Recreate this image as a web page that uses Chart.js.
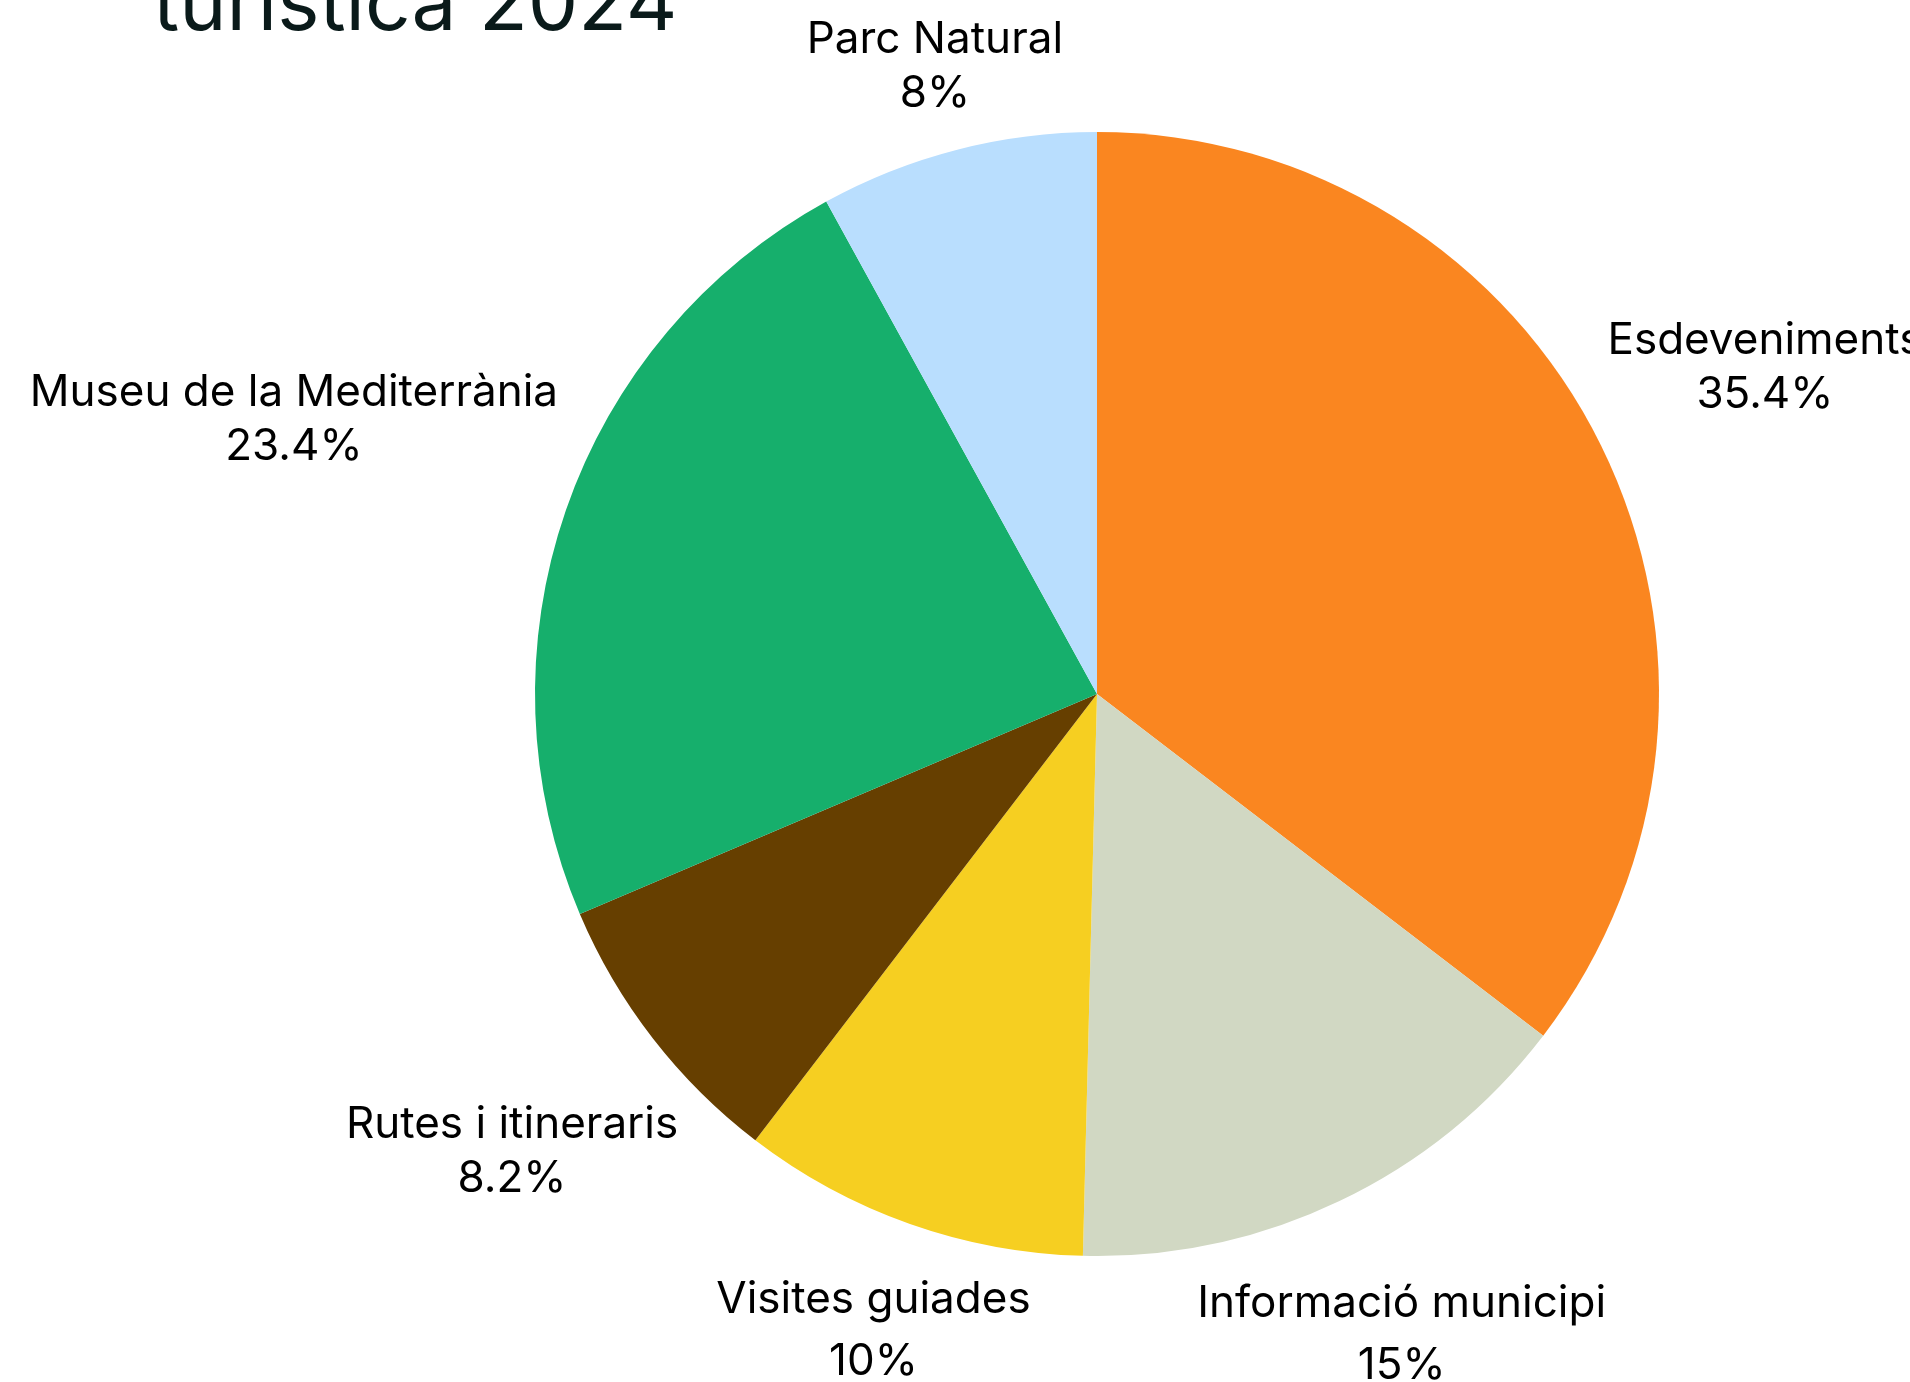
<!DOCTYPE html>
<html>
<head>
    <title>Demanda turística 2024</title>
    <script src="https://cdn.jsdelivr.net/npm/chart.js"></script>
    <style>
        html, body { margin: 0; padding: 0; background: #fff; overflow: hidden; }
        #wrap { width: 1910px; height: 1382px; position: relative; }
    </style>
</head>
<body>
    <div id="wrap"><canvas id="pieChart"></canvas></div>

    <script>
        const titleText = 'turística 2024';
        const categories = ['Esdeveniments', 'Informació municipi', 'Visites guiades', 'Rutes i itineraris', 'Museu de la Mediterrània', 'Parc Natural'];
        const shares = [35.4, 15, 10, 8.2, 23.4, 8];
        const sliceColors = ['#fa8620', '#d1d8c3', '#f6cf21', '#663f00', '#16af6c', '#b9defe'];

        function pctText(v, total) {
            let s = (v / total * 100).toFixed(1);
            if (s.endsWith('.0')) s = s.slice(0, -2);
            return s + '%';
        }

        // labels outside each slice, along the middle angle
        const outsideLabels = {
            id: 'outsideLabels',
            afterDatasetsDraw(chart) {
                const ctx = chart.ctx;
                const meta = chart.getDatasetMeta(0);
                const total = shares.reduce((a, b) => a + b, 0);
                const fontSize = 44;
                const lineH = 54;
                ctx.save();
                ctx.font = fontSize + 'px Inter';
                ctx.fillStyle = '#000';
                ctx.textAlign = 'center';
                ctx.textBaseline = 'middle';
                meta.data.forEach((arc, i) => {
                    const mid = (arc.startAngle + arc.endAngle) / 2;
                    const dx = Math.cos(mid), dy = Math.sin(mid);
                    const lines = [categories[i], pctText(shares[i], total)];
                    const w = Math.max(...lines.map(t => ctx.measureText(t).width));
                    const d = arc.outerRadius + 28 + Math.abs(dx) * w / 2 + Math.abs(dy) * 31;
                    const cx = arc.x + dx * d;
                    const cy = arc.y + dy * d + 4;
                    // lower labels sit a bit more spread out
                    const gap = dy > 0.8 ? lineH + 8 : lineH;
                    ctx.fillText(lines[0], cx, cy - gap / 2);
                    ctx.fillText(lines[1], cx, cy + gap / 2);
                });
                ctx.restore();

                // title, partly above the top edge
                ctx.save();
                ctx.font = '80px Inter';
                ctx.fillStyle = '#0a1a1a';
                ctx.textAlign = 'left';
                ctx.textBaseline = 'alphabetic';
                ctx.fillText(titleText, 153, 30);
                ctx.restore();
            }
        };

        new Chart(document.getElementById('pieChart'), {
            type: 'pie',
            data: {
                labels: categories,
                datasets: [{
                    data: shares,
                    backgroundColor: sliceColors,
                    borderWidth: 0
                }]
            },
            options: {
                responsive: true,
                maintainAspectRatio: false,
                animation: false,
                layout: {
                    padding: { left: 535, right: 251, top: 132, bottom: 126 }
                },
                plugins: {
                    legend: { display: false },
                    tooltip: { enabled: false },
                    title: { display: false }
                }
            },
            plugins: [outsideLabels]
        });
    </script>
</body>
</html>
